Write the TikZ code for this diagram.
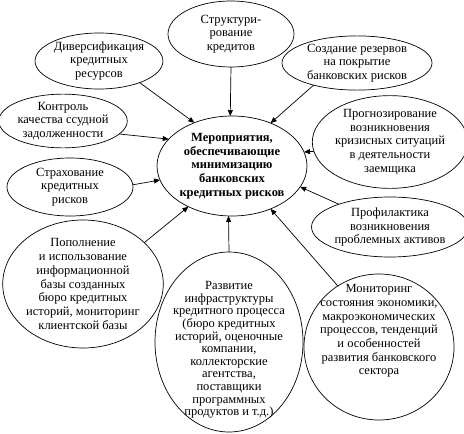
\documentclass[tikz,border=0pt]{standalone}
\usepackage{fontspec}
\setmainfont{Liberation Serif}
\usetikzlibrary{shapes.geometric,arrows.meta}
\begin{document}
\begin{tikzpicture}[x=1pt,y=-1pt,
  oval/.style={ellipse,draw,line width=0.7pt,inner sep=0pt,outer sep=0pt,align=center,font=\fontsize{12.5}{13.7}\selectfont},
  txt/.style={align=center,inner sep=0pt,font=\fontsize{12.5}{13.7}\selectfont},
  arr/.style={line width=0.7pt,-{Triangle[length=6pt,width=5pt]}}]
\useasboundingbox (0,0) rectangle (464,434);
\node[oval,minimum width=150pt,minimum height=100pt] (c) at (232,166)
  {\bfseries Мероприятия,\\\bfseries обеспечивающие\\\bfseries минимизацию\\\bfseries банковских\\\bfseries кредитных рисков};
\node[oval,minimum width=126pt,minimum height=66pt] (t) at (231,34) {Структури-\\рование\\кредитов};
\node[oval,minimum width=116pt,minimum height=56pt] (div) at (99,61) {Диверсификация\\кредитных\\ресурсов};
\node[oval,minimum width=124pt,minimum height=52pt] (ctl) at (63,121) {Контроль\\качества ссудной\\задолженности};
\node[oval,minimum width=150pt,minimum height=52pt] (res) at (357,63) {Создание резервов\\на покрытие\\банковских рисков};
\node[oval,minimum width=144pt,minimum height=90pt] (prog) at (390,142) {Прогнозирование\\возникновения\\кризисных ситуаций\\в деятельности\\заемщика};
\node[oval,minimum width=146pt,minimum height=60pt] (prof) at (390,227) {Профилактика\\возникновения\\проблемных активов};
\node[oval,minimum width=150pt,minimum height=146pt] (mon) at (379,347) {};
\node[txt] (montxt) at (379,331) {Мониторинг\\состояния экономики,\\макроэкономических\\процессов, тенденций\\и особенностей\\развития банковского\\сектора};
\node[oval,minimum width=148pt,minimum height=180pt] (dev) at (229,342) {};
\node[txt,font=\fontsize{12.5}{12.6}\selectfont] (devtxt) at (229,350) {Развитие\\инфраструктуры\\кредитного процесса\\(бюро кредитных\\историй, оценочные\\компании,\\коллекторские\\агентства,\\поставщики\\программных\\продуктов и т.д.)};
\node[oval,minimum width=126pt,minimum height=58pt] (ins) at (70,187) {Страхование\\кредитных\\рисков};
\node[oval,minimum width=156pt,minimum height=128pt] (info) at (83,284) {Пополнение\\и использование\\информационной\\базы созданных\\бюро кредитных\\историй, мониторинг\\клиентской базы};
\draw[arr] (t.south) -- (c.92);
\draw[arr] (div.-28) -- (c.131);
\draw[arr] (ctl.-13) -- (c.157);
\draw[arr] (ins.2) -- (c.-169);
\draw[arr] (info.34) -- (c.-137);
\draw[arr] (dev.north) -- (c.-94);
\draw[arr] (mon.124) -- (c.-48);
\draw[arr] (prof.156) -- (c.-17);
\draw[arr] (prog.-173) -- (c.11);
\draw[arr] (res.-153) -- (c.48);
\end{tikzpicture}
\end{document}
